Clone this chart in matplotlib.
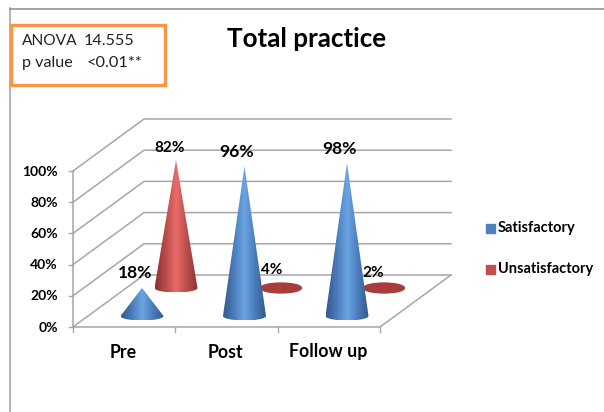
import numpy as np
import matplotlib
matplotlib.use("Agg")
import matplotlib.pyplot as plt
from matplotlib.patches import Polygon, Rectangle, Ellipse
from matplotlib.colors import LinearSegmentedColormap

plt.rcParams['font.family'] = ['Lato', 'DejaVu Sans']

categories = ["Pre", "Post", "Follow up"]
satisfactory = [18, 96, 98]
unsatisfactory = [82, 4, 2]
y_ticks = [0, 20, 40, 60, 80, 100]

# everything is laid out in image pixels, y pointing down
fig = plt.figure(figsize=(6.04, 4.12), dpi=100)
ax = fig.add_axes([0, 0, 1, 1])

x0, y0 = 73, 327      # front left corner of the floor
x1 = 380              # front right corner
dx, dy = 71, 52       # depth of the box
px_per_pct = 1.56
grid = "#a6a6a6"

def val_y(v):
    return y0 - v * px_per_pct

# outer frame
ax.plot([10, 10], [8, 412], color="#a8a8a8", lw=1.2)
ax.plot([10, 604], [8.5, 8.5], color="#8c8c8c", lw=1.1)

# back wall and left wall grid lines
for t in y_ticks:
    y = val_y(t)
    ax.plot([x0, x0 + dx, x1 + dx], [y, y - dy, y - dy], color=grid, lw=1.1)
    ax.plot([x0 - 4, x0], [y, y], color=grid, lw=1.0)
    ax.text(58, y + 0.5, f"{t}%", ha="right", va="center", fontsize=10, fontweight="bold")

# floor
ax.plot([x0, x1, x1 + dx], [y0, y0, y0 - dy], color=grid, lw=1.1)
ax.plot([x0, x0], [val_y(100), y0], color=grid, lw=1.1)

# category ticks
step = (x1 - x0) / len(categories)
for i in range(len(categories) + 1):
    ax.plot([x0 + i * step] * 2, [y0, y0 + 5], color=grid, lw=1.0)

blue_cmap = LinearSegmentedColormap.from_list("b", ["#34598c", "#4a7cba", "#6ba5e4", "#4a7cba", "#34598c"])
red_cmap = LinearSegmentedColormap.from_list("r", ["#8a3230", "#b94c4a", "#ea6c6a", "#b94c4a", "#8a3230"])
grad = np.linspace(0, 1, 128).reshape(1, -1)

def cone(cx, base_y, value, cmap, flat_color):
    hw = 21.5
    hh = 4.5
    h = value * px_per_pct
    if value < 10:
        # short cones only show up as a flat disc
        ax.add_patch(Ellipse((cx, base_y), hw * 1.9, hh * 2.2, color=flat_color, zorder=3))
        return
    t = np.linspace(0, np.pi, 40)
    xs = cx + hw * np.cos(t)
    ys = base_y + hh * np.sin(t)
    pts = [(cx, base_y - h)] + list(zip(xs, ys))
    im = ax.imshow(grad, cmap=cmap, extent=[cx - hw, cx + hw, base_y + hh, base_y - h],
                   aspect="auto", zorder=4, interpolation="bilinear")
    clip = Polygon(pts, closed=True, transform=ax.transData, fc="none", ec="none")
    ax.add_patch(clip)
    im.set_clip_path(clip)

sat_x = [142, 244.5, 347]
unsat_x = [176, 281, 384]
for i in range(len(categories)):
    cone(unsat_x[i], 288, unsatisfactory[i], red_cmap, "#a83c3a")
for i in range(len(categories)):
    cone(sat_x[i], 316, satisfactory[i], blue_cmap, "#4a7cba")

# data labels
sat_lab = [(135, 273), (237, 152), (339, 149)]
unsat_lab = [(170, 148), (272, 270), (373, 273)]
for i in range(len(categories)):
    ax.text(sat_lab[i][0], sat_lab[i][1], f"{satisfactory[i]}%", ha="center", va="center",
            fontsize=12.6, fontweight="bold", zorder=6)
    ax.text(unsat_lab[i][0], unsat_lab[i][1], f"{unsatisfactory[i]}%", ha="center", va="center",
            fontsize=11, fontweight="bold", zorder=6)

# category labels
for i, c in enumerate(categories):
    ax.text(x0 + (i + 0.5) * step - 0.5 * (i == 2) * 0 - 1, 352, c, ha="center", va="center",
            fontsize=12.8, fontweight="bold")

# legend
ax.add_patch(Rectangle((486, 224), 9, 9, color="#4f81bd"))
ax.text(498, 228, "Satisfactory", va="center", fontsize=10.5, fontweight="bold")
ax.add_patch(Rectangle((486, 265), 9, 9, color="#c0504d"))
ax.text(498, 269, "Unsatisfactory", va="center", fontsize=10.5, fontweight="bold")

# title and stats box
ax.text(307, 39, "Total practice", ha="center", va="center", fontsize=18.7, fontweight="bold")
ax.add_patch(Rectangle((11, 25), 154, 60, fc="white", ec="#f79646", lw=2.4, zorder=5))
ax.text(22, 41, "ANOVA", va="center", fontsize=11.2, color="#222222", zorder=6)
ax.text(84, 41, "14.555", va="center", fontsize=11.6, color="#222222", zorder=6)
ax.text(22, 63, "p value", va="center", fontsize=11.6, color="#222222", zorder=6)
ax.text(87, 63, "<0.01**", va="center", fontsize=11.8, color="#222222", zorder=6)

ax.set_xlim(0, 604)
ax.set_ylim(412, 0)
ax.axis("off")
fig.savefig("out.png", dpi=100)
